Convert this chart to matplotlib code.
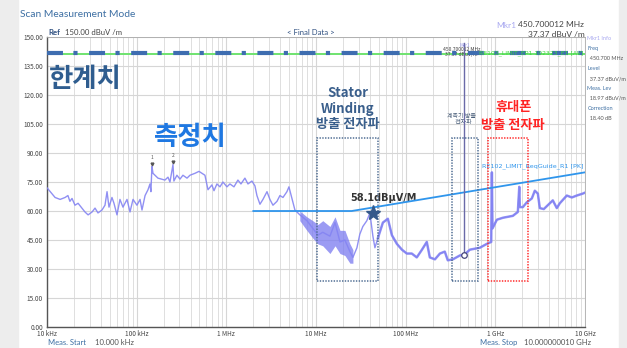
import matplotlib.pyplot as plt
from matplotlib.patches import Rectangle
from matplotlib.ticker import FixedLocator, NullFormatter

plt.rcParams['font.family'] = ['Noto Sans CJK KR', 'DejaVu Sans']
plt.rcParams['lines.scale_dashes'] = False

# measured trace (MHz, dBuV/m)
freq_mhz = [0.01, 0.0123, 0.014, 0.0159, 0.0171, 0.018, 0.019, 0.0205, 0.0222, 0.0245,
            0.0265, 0.0287, 0.0318, 0.0343, 0.037, 0.041, 0.0443, 0.0467, 0.0491, 0.053,
            0.0558, 0.0603, 0.0651, 0.0703, 0.078, 0.0842, 0.091, 0.1007, 0.109, 0.1146,
            0.124, 0.1337, 0.1407, 0.144, 0.148, 0.152, 0.1727, 0.2066, 0.2234, 0.235,
            0.254, 0.26, 0.281, 0.304, 0.328, 0.364, 0.393, 0.4467, 0.495, 0.535,
            0.577, 0.624, 0.69, 0.728, 0.785, 0.849, 0.916, 1.016, 1.096, 1.216,
            1.346, 1.455, 1.611, 1.742, 1.929, 2.084, 2.193, 2.37, 2.56, 2.84,
            3.06, 3.31, 3.67, 3.96, 4.28, 4.74, 4.99, 5.39, 5.82, 6.61,
            7.92, 9.23, 10.5, 11.9, 14.3, 16.3, 18.5, 21.0, 23.9, 25.8,
            28.6, 30.8, 33.3, 36.9, 39.9, 43.1, 45.4, 49.0, 55.7, 63.3,
            70.2, 79.8, 90.8, 103, 117, 133, 152, 172, 186, 212,
            241, 273, 295, 336, 402, 450.7, 520, 671, 804, 900,
            915, 930, 1040, 1213, 1568, 1782, 1850, 1876, 2027, 2244,
            2553, 2757, 2979, 3135, 3473, 3848, 4376, 4849, 5236, 6270,
            7130, 8106, 9443, 10000]
level = [72, 67, 66, 67, 68, 65, 66.5, 63, 64, 61.5,
         59.5, 58, 59.5, 61.5, 59, 60.5, 63, 70, 62, 67,
         64, 58, 66, 62, 66, 59.5, 66, 63, 66, 60.5,
         68, 71, 74, 70, 83, 79.5, 77, 76, 77.5, 75,
         84, 75.5, 78.5, 76.5, 78.5, 77, 78.5, 79.5, 80.5, 79.5,
         78.5, 71, 73.5, 70.5, 74, 72.5, 75, 72.5, 74, 72.5,
         76, 74, 77, 74, 75.5, 73, 68, 63.5, 66, 70,
         66, 63, 65, 68, 67, 70, 72.5, 66.5, 60.5, 58,
         55, 51, 47.5, 49, 47, 54, 44, 45, 39, 36,
         41, 48, 52, 55, 59, 47, 41, 46, 54, 56,
         47.5, 43, 40, 38, 38, 36, 40, 44, 36, 35,
         38, 39, 34.5, 35, 37, 37.4, 40, 41, 43, 44,
         80, 51, 55.5, 56.5, 57.5, 59.5, 72.5, 62, 62, 64.5,
         66.5, 70.5, 69, 61.5, 61, 63, 65.5, 61.5, 64, 68,
         67, 68, 69, 69.5]

# noisy envelope of the trace between 6 and 26 MHz
band_mhz = [6.6, 7.9, 9.2, 10.5, 11.9, 14.3, 16.3, 18.5, 21.0, 23.9, 25.8]
band_low = [55, 50, 46, 43, 42, 38, 42, 38, 37, 33, 33]
band_high = [60, 57, 55, 53, 55, 52, 57, 50, 50, 43, 40]

# limits
pk_limit_mhz = [2, 25, 10000]
pk_limit_db = [60, 60, 80]
av_limit_db = 141

peak_mhz = [0.148, 0.254]
peak_db = [83, 84]
star_mhz, star_db = 43, 59
mkr_mhz, mkr_db = 450.7, 37.37

# dotted boxes (MHz range, dB range)
stator_box = (10.2, 49, 24, 98)
instr_box = (327, 638, 24, 98)
phone_box = (825, 2300, 24, 98)

fig = plt.figure(figsize=(6.27, 3.48), dpi=100)
fig.patches.append(Rectangle((0, 0), 0.028, 1, transform=fig.transFigure, color='#ededed', zorder=-1))
fig.patches.append(Rectangle((0.988, 0), 0.012, 1, transform=fig.transFigure, color='#ededed', zorder=-1))
ax = fig.add_axes([0.075, 0.0603, 0.858, 0.8334])

hz = lambda v: [x * 1e6 for x in v]
ax.set_xscale('log')
ax.set_xlim(1e4, 1e10)
ax.set_ylim(0, 150)

ax.xaxis.set_major_locator(FixedLocator([1e4, 1e5, 1e6, 1e7, 1e8, 1e9, 1e10]))
ax.set_xticklabels(['10 kHz', '100 kHz', '1 MHz', '10 MHz', '100 MHz', '1 GHz', '10 GHz'])
ax.xaxis.set_minor_locator(FixedLocator([m * 10 ** e for e in range(4, 10) for m in range(2, 10)]))
ax.xaxis.set_minor_formatter(NullFormatter())
yt = list(range(0, 151, 15))
ax.set_yticks(yt)
ax.set_yticklabels(['%.2f' % v for v in yt])
ax.tick_params(which='both', length=0, labelsize=4.6, colors='#444', pad=2)
ax.tick_params(axis='y', pad=3)
ax.grid(which='major', color='#d6d6d6', lw=0.8)
ax.grid(which='minor', axis='x', color='#dedede', lw=0.7)
ax.set_axisbelow(True)
for s in ['top', 'right']:
    ax.spines[s].set_color('#aaaaaa')
    ax.spines[s].set_linewidth(0.6)
for s in ['left', 'bottom']:
    ax.spines[s].set_color('#555555')
    ax.spines[s].set_linewidth(1.0)

# limit lines
ax.axhline(av_limit_db, color='#6fe36f', lw=1.4, zorder=3)
ax.axhline(av_limit_db + 0.6, color='#3e6db0', lw=3.0, dashes=(11.5, 7.5, 3, 8.3),
           solid_capstyle='butt', dash_capstyle='butt', zorder=4)
ax.plot(hz(pk_limit_mhz), pk_limit_db, color='#2f95ec', lw=1.3, zorder=4)

# trace: thin below 50 MHz, thicker above
ax.fill_between(hz(band_mhz), band_low, band_high, color='#7a7af0', alpha=0.75, lw=0, zorder=2)
ax.plot(hz(freq_mhz), level, color='#8484f2', lw=1.0, alpha=0.9, zorder=3)
cut = freq_mhz.index(49.0)
ax.plot(hz(freq_mhz[cut:]), level[cut:], color='#8080f2', lw=1.8, alpha=0.8, zorder=3)

# peaks
ax.plot(hz(peak_mhz), [p + 1.5 for p in peak_db], 'v', ms=2, color='#555', zorder=5)
for i, (f, p) in enumerate(zip(peak_mhz, peak_db)):
    ax.text(f * 1e6, p + 3.5, str(i + 1), fontsize=3.5, color='#555', ha='center', va='bottom')

# marker 1
ax.plot([mkr_mhz * 1e6] * 2, [mkr_db, 147], color='#6a6aa8', lw=1.0, zorder=5)
ax.plot(mkr_mhz * 1e6, mkr_db, 'o', ms=4, mfc='white', mec='#44447a', mew=0.9, zorder=6)
ax.text(mkr_mhz * 1e6, 144.8, 'Mkr1', fontsize=3.3, color='#9a9ae8', ha='center')
ax.text(mkr_mhz * 1e6 * 0.93, 140.2, '450.700012 MHz\n37.37 dBuV/m', fontsize=3.6, color='#444',
        ha='center', linespacing=0.9)

# star
ax.plot(star_mhz * 1e6, star_db, '*', ms=11, color='#35598a', zorder=7)
ax.text(star_mhz * 1e6 * 1.3, 65, '58.1dBμV/M', fontsize=7, fontweight='bold',
        color='#333333', ha='center', family=['DejaVu Sans'])

# dotted boxes
for (f0, f1, y0, y1), c in [(stator_box, '#4f6d93'), (instr_box, '#4f6d93'), (phone_box, '#ff2a2a')]:
    ax.add_patch(Rectangle((f0 * 1e6, y0), (f1 - f0) * 1e6, y1 - y0, fill=False, ec=c,
                           lw=1.1, ls=(0, (1, 1)), zorder=6))

# limit labels
ax.text(9.7e9, 141.6, 'RE102_LIMIT_EP1 102323_E1 [AV]', fontsize=4.4, color='#3ed83e',
        ha='right', va='center', family=['DejaVu Sans'], zorder=8)
ax.text(9.7e9, 81.5, 'RE102_LIMIT_ReqGuide_R1 [PK]', fontsize=4.6, color='#2f95ec',
        ha='right', va='bottom', family=['DejaVu Sans'])

# korean annotations
ax.text(1.05e4, 128, '한계치', fontsize=19, fontweight='bold', color='#2f5d8f', va='center')
ax.text(1.55e5, 98, '측정치', fontsize=19, fontweight='bold', color='#1f78e2', va='center')
ax.text(2.25e7, 113, 'Stator\nWinding\n방출 전자파', fontsize=9.5, fontweight='bold',
        color='#3a5f8c', ha='center', va='center', linespacing=1.15)
ax.text(4.2e8, 107.5, '계측기 방출\n   전자파', fontsize=4.3, color='#4a5f7a', ha='center', va='center')
ax.text(1.6e9, 114, '휴대폰', fontsize=9.5, fontweight='bold', color='#ff2424', ha='center', va='center')
ax.text(1.55e9, 104.5, '방출 전자파', fontsize=9.5, fontweight='bold', color='#ff2424', ha='center', va='center')

# header / footer
fig.text(0.032, 0.958, 'Scan Measurement Mode', fontsize=7.4, color='#3d6fa3', va='center', family=['Lato'])
fig.text(0.077, 0.908, 'Ref', fontsize=5.6, color='#2e4f80', va='center', fontweight='bold', family=['Lato'])
fig.text(0.104, 0.908, '150.00 dBuV /m', fontsize=5.6, color='#444', va='center', family=['Lato'])
fig.text(0.495, 0.908, '< Final Data >', fontsize=5.6, color='#2e4f80', ha='center', va='center', family=['Lato'])
fig.text(0.792, 0.928, 'Mkr1', fontsize=6, color='#a8a8f0', va='center', family=['Lato'])
fig.text(0.932, 0.93, '450.700012 MHz', fontsize=6, color='#444', ha='right', va='center', family=['Lato'])
fig.text(0.932, 0.9, '37.37 dBuV /m', fontsize=6, color='#444', ha='right', va='center', family=['Lato'])
fig.text(0.077, 0.015, 'Meas. Start', fontsize=5.5, color='#3d6fa3', va='center', family=['Lato'])
fig.text(0.152, 0.015, '10.000 kHz', fontsize=5.5, color='#555', va='center', family=['Lato'])
fig.text(0.765, 0.015, 'Meas. Stop', fontsize=5.5, color='#3d6fa3', va='center', family=['Lato'])
fig.text(0.835, 0.015, '10.000000010 GHz', fontsize=5.5, color='#555', va='center', family=['Lato'])

info = [('Mkr1 Info', '#a8a8f0'), ('Freq', '#3d6fa3'), ('  450.700 MHz', '#555'),
        ('Level', '#3d6fa3'), ('  37.37 dBuV/m', '#555'), ('Meas. Lev', '#3d6fa3'),
        ('  18.97 dBuV/m', '#555'), ('Correction', '#3d6fa3'), ('  18.40 dB', '#555')]
for i, (t, c) in enumerate(info):
    fig.text(0.937, 0.888 - i * 0.0285, t, fontsize=4, color=c, va='center', family=['Lato'])

fig.savefig('out.png', dpi=100, facecolor='white')
